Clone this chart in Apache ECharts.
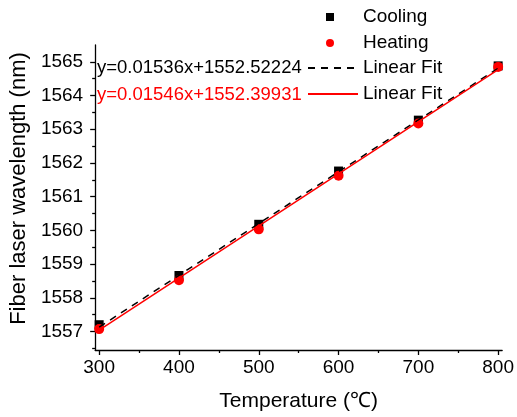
<!DOCTYPE html>
<html>
<head>
<meta charset="utf-8">
<script src="https://cdn.jsdelivr.net/npm/echarts@6/dist/echarts.min.js"></script>
<style>html,body{margin:0;padding:0;background:#fff}#c{width:517px;height:417px}</style>
</head>
<body>
<div id="c"></div>
<script>
var temps = [300, 400, 500, 600, 700, 800];
var cooling = [1557.20, 1558.66, 1560.18, 1561.76, 1563.27, 1564.88];
var heating = [1557.07, 1558.52, 1560.03, 1561.62, 1563.17, 1564.85];
var coolingFitX = [300, 800];
var coolingFitY = [1557.13, 1564.81];
var heatingFitX = [300, 800];
var heatingFitY = [1557.04, 1564.77];
var xTicks = [300, 400, 500, 600, 700, 800];
var xMinor = [350, 450, 550, 650, 750];
var yTicks = [1557, 1558, 1559, 1560, 1561, 1562, 1563, 1564, 1565];
var yMinor = [1556.5, 1557.5, 1558.5, 1559.5, 1560.5, 1561.5, 1562.5, 1563.5, 1564.5];
var coolingEq = 'y=0.01536x+1552.52224';
var heatingEq = 'y=0.01546x+1552.39931';

function pairs(xs, ys) { return xs.map(function (x, i) { return [x, ys[i]]; }); }

var FONT = 'Liberation Sans, Arial, sans-serif';
var RED = '#ff0000';
var chart = echarts.init(document.getElementById('c'), null, {renderer: 'canvas'});
var axisLineStyle = {color: '#000', width: 1.3};
var plain = function (v) { return String(v); };
chart.setOption({
  animation: false,
  backgroundColor: '#fff',
  textStyle: {fontFamily: FONT, color: '#000'},
  grid: {left: 95, right: 10, top: 45, bottom: 67, containLabel: false},
  xAxis: [{
    type: 'value', min: 295, max: 805,
    name: 'Temperature (\u2103)', nameLocation: 'middle', nameGap: 41,
    nameTextStyle: {fontSize: 21, fontFamily: FONT, color: '#000'},
    axisLine: {show: true, lineStyle: axisLineStyle},
    axisTick: {show: true, inside: false, length: 5, customValues: xTicks, lineStyle: axisLineStyle},
    axisLabel: {customValues: xTicks, formatter: plain, fontSize: 19, fontFamily: FONT, color: '#000', margin: 8},
    splitLine: {show: false}
  }, {
    type: 'value', min: 295, max: 805, position: 'bottom',
    axisLine: {show: false},
    axisTick: {show: true, inside: false, length: 3, customValues: xMinor, lineStyle: axisLineStyle},
    axisLabel: {show: false},
    splitLine: {show: false}
  }],
  yAxis: [{
    type: 'value', min: 1556.45, max: 1565.5,
    name: 'Fiber laser wavelength (nm)', nameLocation: 'middle', nameGap: 64,
    nameTextStyle: {fontSize: 22, fontFamily: FONT, color: '#000', padding: [0, 0, 0, 18]},
    axisLine: {show: true, lineStyle: axisLineStyle},
    axisTick: {show: true, inside: false, length: 5, customValues: yTicks, lineStyle: axisLineStyle},
    axisLabel: {customValues: yTicks, formatter: plain, fontSize: 19, fontFamily: FONT, color: '#000', margin: 12},
    splitLine: {show: false}
  }, {
    type: 'value', min: 1556.45, max: 1565.5, position: 'left',
    axisLine: {show: false},
    axisTick: {show: true, inside: false, length: 3, customValues: yMinor, lineStyle: axisLineStyle},
    axisLabel: {show: false},
    splitLine: {show: false}
  }],
  legend: [{
    orient: 'vertical', left: 321, top: 2, itemGap: 6,
    itemWidth: 8, itemHeight: 8,
    data: [{name: 'Cooling'}, {name: 'Heating'}],
    textStyle: {fontSize: 19, fontFamily: FONT, color: '#000', lineHeight: 20, padding: [0, 0, 0, 24]}
  }, {
    orient: 'vertical', left: 302, top: 53, itemGap: 6,
    itemWidth: 50, itemHeight: 2,
    itemStyle: {opacity: 0},
    data: [{name: 'Linear Fit'}, {name: 'Linear Fit '}],
    textStyle: {fontSize: 19, fontFamily: FONT, color: '#000', lineHeight: 20}
  }],
  graphic: [{
    type: 'text', left: 97, top: 58,
    style: {text: coolingEq, fontSize: 18.5, fontFamily: FONT, fill: '#000', lineHeight: 20}
  }, {
    type: 'text', left: 97, top: 85,
    style: {text: heatingEq, fontSize: 18.5, fontFamily: FONT, fill: RED, lineHeight: 20}
  }],
  series: [{
    name: 'Cooling', type: 'scatter', symbol: 'rect', symbolSize: 9,
    itemStyle: {color: '#000', opacity: 1}, data: pairs(temps, cooling), z: 2
  }, {
    name: 'Heating', type: 'scatter', symbol: 'circle', symbolSize: 10,
    itemStyle: {color: RED, opacity: 1}, data: pairs(temps, heating), z: 3
  }, {
    name: 'Linear Fit', type: 'line', symbol: 'none', showSymbol: false,
    lineStyle: {color: '#000', width: 1.5, type: [7, 6]}, itemStyle: {color: '#000'},
    data: pairs(coolingFitX, coolingFitY), z: 4
  }, {
    name: 'Linear Fit ', type: 'line', symbol: 'none', showSymbol: false,
    lineStyle: {color: RED, width: 1.5}, itemStyle: {color: RED},
    data: pairs(heatingFitX, heatingFitY), z: 5
  }]
});
</script>
</body>
</html>
